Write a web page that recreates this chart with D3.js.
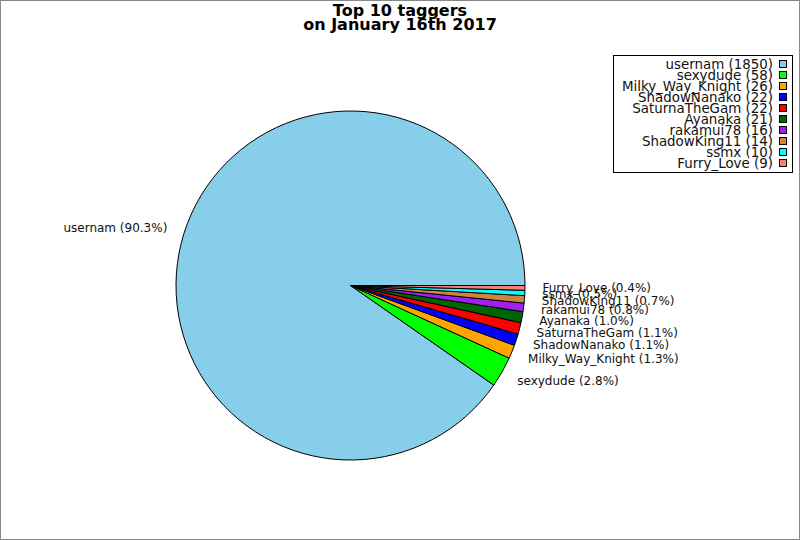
<!DOCTYPE html>
<html lang="en">
<head>
<meta charset="UTF-8">
<title>Top 10 taggers</title>
<script src="https://d3js.org/d3.v7.min.js"></script>
<style>
  body { margin: 0; background: #fff; }
  svg text { font-family: "DejaVu Sans", sans-serif; }
</style>
</head>
<body>
<div id="chart"></div>
<script>
// data
const names = ['usernam', 'sexydude', 'Milky_Way_Knight', 'ShadowNanako', 'SaturnaTheGam',
               'Ayanaka', 'rakamui78', 'ShadowKing11', 'ssmx', 'Furry_Love'];
const counts = [1850, 58, 26, 22, 22, 21, 16, 14, 10, 9];
const colors = ['#87ceeb', '#00ff00', '#ffa500', '#0000ff', '#ff0000',
                '#006400', '#a020f0', '#cd853f', '#00ffff', '#fa8072'];
const titleLines = ['Top 10 taggers', 'on January 16th 2017'];

const width = 800, height = 540;
const cx = 350.5, cy = 285.5, r = 174.5;

const svg = d3.select('#chart').append('svg')
    .attr('width', width)
    .attr('height', height);

svg.append('rect')
    .attr('x', 0.5).attr('y', 0.5)
    .attr('width', width - 1).attr('height', height - 1)
    .attr('fill', '#fff')
    .attr('stroke', '#888');

// title
svg.append('g').selectAll('text')
    .data(titleLines)
    .enter().append('text')
    .attr('x', 400)
    .attr('y', (d, i) => 16 + i * 14)
    .attr('text-anchor', 'middle')
    .attr('font-size', 16)
    .attr('font-weight', 'bold')
    .text(d => d);

const total = d3.sum(counts);
const items = names.map((n, i) => ({ name: n, value: counts[i], color: colors[i] }));

// slices go counter-clockwise from 3 o'clock
const pie = d3.pie()
    .value(d => d.value)
    .sort(null)
    .startAngle(Math.PI / 2)
    .endAngle(Math.PI / 2 - 2 * Math.PI);

const arcs = pie(items);
const arc = d3.arc().innerRadius(0).outerRadius(r);

const g = svg.append('g').attr('transform', `translate(${cx},${cy})`);

g.selectAll('path')
    .data(arcs)
    .enter().append('path')
    .attr('d', arc)
    .attr('fill', d => d.data.color)
    .attr('stroke', '#000')
    .attr('stroke-width', 1)
    .attr('stroke-linejoin', 'round');

// labels
const lr = r * 1.1;
g.selectAll('text')
    .data(arcs)
    .enter().append('text')
    .each(function (d) {
        const a = (d.startAngle + d.endAngle) / 2;
        const x = lr * Math.sin(a), y = -lr * Math.cos(a);
        d3.select(this)
            .attr('x', x)
            .attr('y', y)
            .attr('dy', '0.35em')
            .attr('text-anchor', x >= 0 ? 'start' : 'end');
    })
    .attr('font-size', 12)
    .attr('fill', '#111')
    .text(d => `${d.data.name} (${(d.data.value / total * 100).toFixed(1)}%)`);

// legend
const legend = svg.append('g');
legend.append('rect')
    .attr('x', 613.5).attr('y', 55.5)
    .attr('width', 179).attr('height', 117)
    .attr('fill', '#fff')
    .attr('stroke', '#000');

const rowY = d3.scaleLinear().domain([0, names.length - 1]).range([64, 163]);

const rows = legend.selectAll('g.row')
    .data(items)
    .enter().append('g')
    .attr('class', 'row')
    .attr('transform', (d, i) => `translate(0,${rowY(i)})`);

rows.append('text')
    .attr('x', 773)
    .attr('dy', '0.35em')
    .attr('text-anchor', 'end')
    .attr('font-size', 13.4)
    .attr('fill', '#111')
    .text(d => `${d.name} (${d.value})`);

rows.append('rect')
    .attr('x', 779.5).attr('y', -3.5)
    .attr('width', 7).attr('height', 7)
    .attr('fill', d => d.color)
    .attr('stroke', '#000');
</script>
</body>
</html>
